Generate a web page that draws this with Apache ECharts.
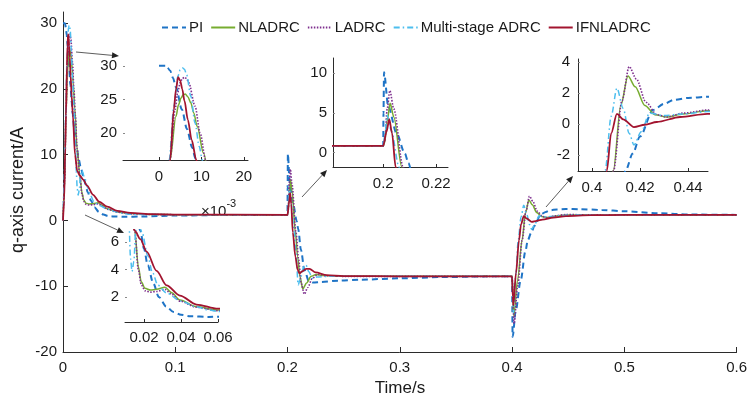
<!DOCTYPE html>
<html><head><meta charset="utf-8">
<script src="https://cdn.jsdelivr.net/npm/echarts@6/dist/echarts.min.js"></script>
<style>html,body{margin:0;padding:0;background:#fff}#c{width:750px;height:405px}</style>
</head><body><div id="c"></div>
<script>
// ---------------- data (time in s, current in A) ----------------
const seriesNames = ['PI', 'NLADRC', 'LADRC', 'Multi-stage ADRC', 'IFNLADRC'];

const piT = [0, 0.0017, 0.0026, 0.0033, 0.004, 0.0054, 0.0066, 0.0078, 0.0086, 0.010, 0.012, 0.014, 0.016, 0.018, 0.020, 0.022, 0.025, 0.028, 0.032, 0.036, 0.040, 0.045, 0.055, 0.07, 0.1, 0.15, 0.2, 0.2001, 0.2003, 0.2019, 0.2051, 0.2082, 0.2095, 0.212, 0.215, 0.219, 0.223, 0.23, 0.245, 0.265, 0.3, 0.34, 0.38, 0.4, 0.4005, 0.4033, 0.4077, 0.412, 0.414, 0.417, 0.42, 0.4254, 0.43, 0.434, 0.44, 0.448, 0.46, 0.48, 0.5, 0.53, 0.56, 0.6];
const piV = [30, 30, 29.3, 28.2, 26.8, 23.5, 20.6, 17.9, 16.2, 14, 11.3, 9.3, 7.9, 6.8, 5.5, 4.3, 3.0, 2.0, 1.3, 0.9, 0.7, 0.6, 0.55, 0.6, 0.75, 0.85, 0.85, 5, 10.1, 5.8, 2.4, -0.1, -1.3, -4.5, -7.5, -9.2, -9.45, -9.35, -9.15, -9.0, -8.8, -8.6, -8.5, -8.5, -17.7, -13.7, -9.1, -4.6, -3.0, -1.9, -0.8, 0.9, 1.3, 1.55, 1.68, 1.75, 1.72, 1.6, 1.4, 1.1, 0.9, 0.85];

const nlT = [0, 0.0015, 0.0026, 0.004, 0.0046, 0.0052, 0.0057, 0.0062, 0.0068, 0.0075, 0.0082, 0.009, 0.0105, 0.0125, 0.015, 0.0169, 0.0185, 0.0205, 0.0235, 0.0268, 0.0313, 0.035, 0.0394, 0.0484, 0.0592, 0.08, 0.1, 0.2, 0.2005, 0.2015, 0.2026, 0.204, 0.207, 0.209, 0.211, 0.2136, 0.217, 0.221, 0.2255, 0.232, 0.245, 0.3, 0.4, 0.4015, 0.405, 0.4089, 0.412, 0.415, 0.418, 0.422, 0.4263, 0.431, 0.438, 0.448, 0.47, 0.6];
const nlV = [0, 6, 16, 22.5, 24.2, 25.2, 25.7, 25.8, 25.4, 24.5, 23, 21, 17, 11, 6.8, 4.2, 3.1, 2.63, 2.5, 2.56, 2.7, 2.3, 1.78, 1.3, 1.05, 0.9, 0.88, 0.85, 1.2, 4.0, 6.2, 4.5, -1.8, -5.5, -8.5, -10.4, -9.5, -8.5, -8.2, -8.35, -8.5, -8.5, -8.5, -14.5, -9, -3.0, 1.2, 3.1, 2.4, 1.2, 0.6, 0.45, 0.65, 0.85, 0.85, 0.85];

const laT = [0, 0.0015, 0.0026, 0.0038, 0.0044, 0.005, 0.0055, 0.006, 0.0065, 0.007, 0.0085, 0.0097, 0.011, 0.0125, 0.015, 0.0169, 0.0185, 0.0205, 0.0235, 0.0268, 0.0313, 0.035, 0.0394, 0.0484, 0.06, 0.08, 0.1, 0.2, 0.2006, 0.2015, 0.2025, 0.204, 0.2075, 0.21, 0.212, 0.215, 0.218, 0.222, 0.227, 0.235, 0.25, 0.4, 0.4018, 0.405, 0.409, 0.4125, 0.4155, 0.4185, 0.4225, 0.427, 0.431, 0.438, 0.448, 0.47, 0.6];
const laV = [0, 6, 16, 23.5, 26, 27.5, 28.1, 28.3, 28.1, 27.5, 24, 20, 16, 11, 6.8, 4.0, 2.9, 2.45, 2.35, 2.4, 2.55, 2.2, 1.7, 1.25, 1.0, 0.9, 0.88, 0.85, 1.5, 5.5, 7.8, 5.5, -1.8, -6, -9.5, -11.2, -10.2, -8.8, -8.2, -8.4, -8.5, -8.5, -15.7, -10, -3.0, 1.5, 3.7, 2.9, 1.4, 0.6, 0.45, 0.7, 0.9, 0.85, 0.85];

const msT = [0, 0.0015, 0.0024, 0.0035, 0.0045, 0.005, 0.0055, 0.006, 0.0065, 0.0075, 0.0085, 0.0095, 0.0102, 0.011, 0.0118, 0.0127, 0.0135, 0.0145, 0.0155, 0.0168, 0.0189, 0.022, 0.0245, 0.0275, 0.032, 0.04, 0.048, 0.055, 0.06, 0.08, 0.1, 0.2, 0.2007, 0.2015, 0.203, 0.206, 0.2075, 0.2095, 0.212, 0.2145, 0.2165, 0.219, 0.222, 0.226, 0.235, 0.4, 0.4012, 0.4035, 0.4055, 0.408, 0.4104, 0.413, 0.4155, 0.4175, 0.4205, 0.424, 0.43, 0.438, 0.448, 0.47, 0.6];
const msV = [0, 8, 16, 24, 28.5, 29.4, 29.7, 29.5, 28.7, 25.5, 21.5, 18, 16, 12, 7.5, 4.8, 3.85, 4.6, 6.8, 7.6, 6.7, 5.0, 3.8, 2.85, 2.3, 1.7, 1.3, 1.05, 0.95, 0.9, 0.88, 0.85, 2.5, 4.7, 2.8, -1.8, -5, -9.8, -8.5, -7.0, -6.8, -7.8, -8.8, -8.6, -8.5, -8.5, -14, -8, -3.0, 0.5, 2.3, 1.0, -0.6, -1.35, -0.5, 0.7, 0.55, 0.65, 0.8, 0.85, 0.85];

const ifT = [0, 0.001, 0.002, 0.0026, 0.0035, 0.004, 0.0045, 0.005, 0.0055, 0.006, 0.0068, 0.0077, 0.0088, 0.0107, 0.0127, 0.0151, 0.018, 0.0214, 0.0268, 0.0322, 0.0394, 0.0484, 0.06, 0.08, 0.1, 0.2, 0.2012, 0.2023, 0.2033, 0.2047, 0.207, 0.209, 0.2107, 0.213, 0.2165, 0.2196, 0.225, 0.235, 0.25, 0.3, 0.4, 0.4006, 0.4012, 0.4035, 0.4062, 0.408, 0.4104, 0.413, 0.4175, 0.422, 0.427, 0.4367, 0.448, 0.47, 0.5, 0.6];
const ifV = [0, 3, 11, 16, 23.5, 26.5, 28.3, 27.8, 26.5, 24.8, 22, 19, 16, 10, 7.5, 6.8, 6.2, 5.3, 3.9, 2.85, 2.1, 1.45, 1.15, 0.95, 0.9, 0.85, 2.6, 4.2, 2.5, -1.8, -5.5, -7.5, -8.05, -7.75, -7.35, -7.35, -7.9, -8.3, -8.45, -8.5, -8.5, -11.5, -12.9, -8.0, -3.0, -0.6, 0.65, 0.3, -0.2, -0.05, 0.13, 0.45, 0.65, 0.8, 0.85, 0.85];

// tick labels
const mainXTicks = [0, 0.1, 0.2, 0.3, 0.4, 0.5, 0.6];
const mainYTicks = [-20, -10, 0, 10, 20, 30];
const in1XTicks = [0, 0.01, 0.02];
const in1YTicks = [20, 25, 30];
const in2XTicks = [0.2, 0.22];
const in2YTicks = [0, 5, 10];
const in3XTicks = [0.4, 0.42, 0.44];
const in3YTicks = [-2, 0, 2, 4];
const in4XTicks = [0.02, 0.04, 0.06];
const in4YTicks = [2, 4, 6];

// ---------------- chart ----------------
const FONT = '"Liberation Sans", Arial, sans-serif';
const TXT = '#1a1a1a';
const AX = '#2b2b2b';
const seriesT = [piT, nlT, laT, msT, ifT];
const seriesV = [piV, nlV, laV, msV, ifV];
const styles = [
  {color: '#1f74c6', width: 2, type: [6, 4]},
  {color: '#77AC30', width: 1.5, type: 'solid'},
  {color: '#7E2F8E', width: 1.6, type: [1.5, 1.5]},
  {color: '#4DBEEE', width: 1.5, type: [6, 3, 1.5, 3]},
  {color: '#A2142F', width: 1.8, type: 'solid'}
];

const grids = [
  {left: 63, top: 12, width: 675, height: 340},
  {left: 123, top: 55, width: 125, height: 105},
  {left: 333, top: 58, width: 115, height: 109},
  {left: 578, top: 59, width: 130, height: 112},
  {left: 125, top: 230, width: 93, height: 92}
];

function xAx(g, min, max, ticks, fmt, opt) {
  return Object.assign({
    type: 'value', gridIndex: g, min: min, max: max,
    splitLine: {show: false},
    axisLine: {show: true, onZero: false, lineStyle: {color: AX, width: 1}},
    axisTick: {show: true, inside: true, length: 3, customValues: ticks, lineStyle: {color: AX}},
    axisLabel: {customValues: ticks, formatter: fmt, color: TXT, fontSize: 15, fontFamily: FONT, margin: 9}
  }, opt || {});
}
function yAx(g, min, max, ticks, showLine, opt) {
  return Object.assign({
    type: 'value', gridIndex: g, min: min, max: max,
    splitLine: {show: false},
    axisLine: {show: showLine, onZero: false, lineStyle: {color: AX, width: 1}},
    axisTick: {show: true, inside: true, length: 2, customValues: ticks, lineStyle: {color: '#888'}},
    axisLabel: {customValues: ticks, color: TXT, fontSize: 15, fontFamily: FONT, margin: 6}
  }, opt || {});
}

const xAxes = [
  xAx(0, 0, 0.6, mainXTicks, v => String(+v.toFixed(2)), {axisTick: {show: true, inside: true, length: 5, customValues: mainXTicks, lineStyle: {color: AX}}, axisLabel: {customValues: mainXTicks, formatter: v => String(+v.toFixed(2)), color: TXT, fontSize: 15, fontFamily: FONT, margin: 8}}),
  xAx(1, -0.0085, 0.021, in1XTicks, v => String(Math.round(v * 1000))),
  xAx(2, 0.181, 0.2245, in2XTicks, v => String(+v.toFixed(3))),
  xAx(3, 0.3942, 0.4483, in3XTicks, v => String(+v.toFixed(3))),
  xAx(4, 0.0097, 0.06, in4XTicks, v => String(+v.toFixed(3)), {axisLabel: {customValues: in4XTicks, formatter: v => String(+v.toFixed(3)), color: TXT, fontSize: 15, fontFamily: FONT, margin: 8}})
];
const yAxes = [
  yAx(0, -20, 31.7, mainYTicks, true, {axisTick: {show: true, inside: true, length: 5, customValues: mainYTicks, lineStyle: {color: AX}}}),
  yAx(1, 16, 31.6, in1YTicks, false),
  yAx(2, -1.8, 11.9, in2YTicks, true),
  yAx(3, -3.03, 4.19, in3YTicks, true, {axisLabel: {customValues: in3YTicks, color: TXT, fontSize: 15, fontFamily: FONT, margin: 8}}),
  yAx(4, 0.18, 6.87, in4YTicks, false)
];

const series = [];
for (let g = 0; g < grids.length; g++) {
  for (let i = 0; i < seriesNames.length; i++) {
    const data = seriesT[i].map((t, k) => [t, seriesV[i][k]]);
    series.push({
      type: 'line', name: seriesNames[i], xAxisIndex: g, yAxisIndex: g,
      data: data, symbol: 'none', showSymbol: false, smooth: 0.3, smoothMonotone: 'x',
      clip: true, animation: false, silent: true,
      lineStyle: {color: styles[i].color, width: styles[i].width, type: styles[i].type},
      itemStyle: {color: styles[i].color}
    });
  }
}

function arrow(x1, y1, x2, y2) {
  const a = Math.atan2(y2 - y1, x2 - x1);
  const L = 7, W = 3;
  const bx = x2 - L * Math.cos(a), by = y2 - L * Math.sin(a);
  const px = -Math.sin(a) * W, py = Math.cos(a) * W;
  return [
    {type: 'line', shape: {x1: x1, y1: y1, x2: bx, y2: by}, style: {stroke: '#333', lineWidth: 0.8}, z: 100},
    {type: 'polygon', shape: {points: [[x2, y2], [bx + px, by + py], [bx - px, by - py]]}, style: {fill: '#222'}, z: 100}
  ];
}

const graphic = [
  {type: 'text', x: 18, y: 190, rotation: Math.PI / 2, style: {text: 'q-axis current/A', fill: TXT, font: '18px ' + FONT, textAlign: 'center', textVerticalAlign: 'middle'}},
  {type: 'text', x: 400, y: 388, style: {text: 'Time/s', fill: TXT, font: '17px ' + FONT, textAlign: 'center', textVerticalAlign: 'middle'}},
  {type: 'text', x: 201, y: 198, style: {
    text: '{a|×10}{b|-3}', fill: TXT,
    rich: {a: {fontSize: 15, fontFamily: FONT, color: TXT, verticalAlign: 'bottom', padding: [6, 0, 0, 0]}, b: {fontSize: 11, fontFamily: FONT, color: TXT, verticalAlign: 'top'}}
  }}
].concat(arrow(76, 52, 119, 56), arrow(85, 215, 124, 233), arrow(302, 197, 327, 170), arrow(546, 207, 573, 176));

const chart = echarts.init(document.getElementById('c'), null, {renderer: 'canvas'});
chart.setOption({
  animation: false,
  backgroundColor: '#fff',
  grid: grids,
  xAxis: xAxes,
  yAxis: yAxes,
  legend: {
    data: seriesNames, left: 156, top: 15, itemWidth: 24, itemHeight: 10, itemGap: 7,
    itemStyle: {color: 'rgba(0,0,0,0)', borderColor: 'rgba(0,0,0,0)', borderWidth: 0, opacity: 0},
    textStyle: {fontSize: 15, fontFamily: FONT, color: TXT, padding: [0, 0, 0, -2]},
    inactiveColor: '#ccc'
  },
  series: series,
  graphic: graphic
});
</script>
</body></html>
